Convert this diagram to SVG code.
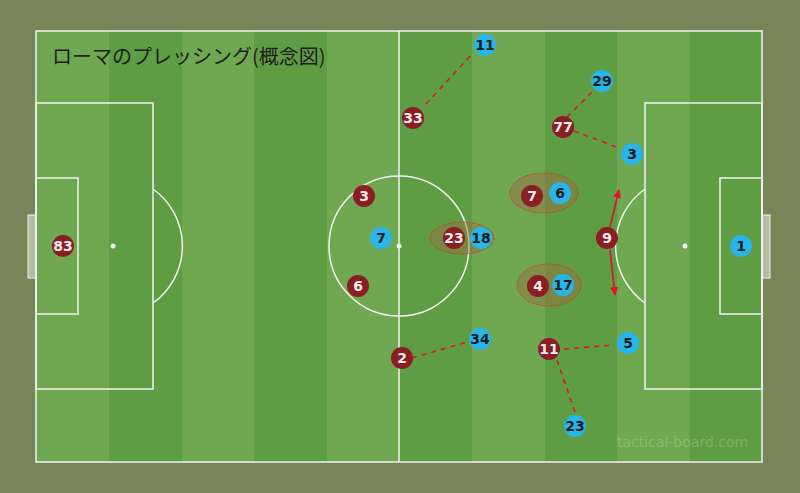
<svg xmlns="http://www.w3.org/2000/svg" width="800" height="493" viewBox="0 0 800 493">
<defs>
<style>
.ln{fill:none;stroke:#f2f2f2;stroke-width:1.5}
.red circle{fill:#8b1d24}
.red text{fill:#eeeeee}
.blue circle{fill:#27b5ea}
.blue text{fill:#1c1c1c}
text.n{font-family:"DejaVu Sans","Liberation Sans",sans-serif;font-weight:bold;font-size:14px;text-anchor:middle}
.dash{fill:none;stroke:#e0122c;stroke-width:1.6;stroke-dasharray:5 5}
.arr{fill:none;stroke:#e0122c;stroke-width:1.6}
.grp{fill:#9c6a3c;fill-opacity:0.45;stroke:#c0443a;stroke-width:1;stroke-dasharray:2 1}
</style>
<marker id="ah" markerWidth="10" markerHeight="10" refX="8" refY="5" orient="auto" markerUnits="userSpaceOnUse">
<path d="M0,1 L9,5 L0,9 z" fill="#e0122c"/>
</marker>
</defs>
<rect x="0" y="0" width="800" height="493" fill="#768659"/>
<g id="pitch">
<rect x="36" y="31" width="726" height="431" fill="#70a852"/>
<rect x="109" y="31" width="73" height="431" fill="#5f9d45"/>
<rect x="254" y="31" width="73" height="431" fill="#5f9d45"/>
<rect x="399" y="31" width="73" height="431" fill="#5f9d45"/>
<rect x="545" y="31" width="72" height="431" fill="#5f9d45"/>
<rect x="690" y="31" width="72" height="431" fill="#5f9d45"/>
<rect x="28" y="215" width="8" height="63" fill="#b3bca4" stroke="#f2f2f2" stroke-width="1"/>
<rect x="762" y="215" width="8" height="63" fill="#b3bca4" stroke="#f2f2f2" stroke-width="1"/>
<rect class="ln" x="36" y="31" width="726" height="431"/>
<line class="ln" x1="399" y1="31" x2="399" y2="462"/>
<circle class="ln" cx="399" cy="246" r="70"/>
<circle cx="399" cy="246" r="2.5" fill="#f2f2f2"/>
<rect class="ln" x="36" y="103" width="117" height="286"/>
<rect class="ln" x="36" y="178" width="42" height="136"/>
<circle cx="113" cy="246" r="2.5" fill="#f2f2f2"/>
<path class="ln" d="M153,189 A70,70 0 0 1 153,303"/>
<rect class="ln" x="645" y="103" width="117" height="286"/>
<rect class="ln" x="720" y="178" width="42" height="136"/>
<circle cx="685" cy="246" r="2.5" fill="#f2f2f2"/>
<path class="ln" d="M645,189 A70,70 0 0 0 645,303"/>
</g>
<text x="52" y="64" font-family="'Noto Sans CJK JP','Noto Sans',sans-serif" font-size="20" fill="#1e1e1e">ローマのプレッシング(概念図)</text>
<text x="617" y="447" font-family="'DejaVu Sans','Liberation Sans',sans-serif" font-size="14" fill="#ffffff" fill-opacity="0.2">tactical-board.com</text>
<g id="groups">
<ellipse class="grp" cx="462" cy="238" rx="32" ry="16"/>
<ellipse class="grp" cx="544" cy="193" rx="34" ry="20"/>
<ellipse class="grp" cx="549" cy="285" rx="32" ry="21"/>
</g>
<g id="connectors">
<line class="dash" x1="426" y1="104" x2="473" y2="53"/>
<line class="dash" x1="567" y1="117" x2="594" y2="90"/>
<line class="dash" x1="574" y1="131" x2="619" y2="148"/>
<line class="dash" x1="412" y1="358" x2="467" y2="342"/>
<line class="dash" x1="564" y1="349" x2="614" y2="345"/>
<line class="dash" x1="557" y1="360" x2="575" y2="412"/>
<line class="arr" x1="610" y1="227" x2="619" y2="190" marker-end="url(#ah)"/>
<line class="arr" x1="610" y1="250" x2="615" y2="295" marker-end="url(#ah)"/>
</g>
<g id="p-r83" class="red"><circle cx="63" cy="246" r="11"/><text class="n" x="63" y="251">83</text></g>
<g id="p-b1" class="blue"><circle cx="741" cy="246" r="11"/><text class="n" x="741" y="251">1</text></g>
<g id="p-b11" class="blue"><circle cx="485" cy="45" r="11"/><text class="n" x="485" y="50">11</text></g>
<g id="p-r33" class="red"><circle cx="413" cy="118" r="11"/><text class="n" x="413" y="123">33</text></g>
<g id="p-b29" class="blue"><circle cx="602" cy="81" r="11"/><text class="n" x="602" y="86">29</text></g>
<g id="p-r77" class="red"><circle cx="563" cy="127" r="11"/><text class="n" x="563" y="132">77</text></g>
<g id="p-b3" class="blue"><circle cx="632" cy="154" r="11"/><text class="n" x="632" y="159">3</text></g>
<g id="p-r3" class="red"><circle cx="364" cy="196" r="11"/><text class="n" x="364" y="201">3</text></g>
<g id="p-b7" class="blue"><circle cx="381" cy="238" r="11"/><text class="n" x="381" y="243">7</text></g>
<g id="p-r6" class="red"><circle cx="358" cy="286" r="11"/><text class="n" x="358" y="291">6</text></g>
<g id="p-r23" class="red"><circle cx="454" cy="238" r="11"/><text class="n" x="454" y="243">23</text></g>
<g id="p-b18" class="blue"><circle cx="481" cy="238" r="11"/><text class="n" x="481" y="243">18</text></g>
<g id="p-r7" class="red"><circle cx="532" cy="196" r="11"/><text class="n" x="532" y="201">7</text></g>
<g id="p-b6" class="blue"><circle cx="560" cy="193" r="11"/><text class="n" x="560" y="198">6</text></g>
<g id="p-r4" class="red"><circle cx="538" cy="286" r="11"/><text class="n" x="538" y="291">4</text></g>
<g id="p-b17" class="blue"><circle cx="563" cy="285" r="11"/><text class="n" x="563" y="290">17</text></g>
<g id="p-r9" class="red"><circle cx="607" cy="238" r="11"/><text class="n" x="607" y="243">9</text></g>
<g id="p-r2" class="red"><circle cx="402" cy="358" r="11"/><text class="n" x="402" y="363">2</text></g>
<g id="p-b34" class="blue"><circle cx="480" cy="339" r="11"/><text class="n" x="480" y="344">34</text></g>
<g id="p-r11" class="red"><circle cx="549" cy="349" r="11"/><text class="n" x="549" y="354">11</text></g>
<g id="p-b5" class="blue"><circle cx="628" cy="343" r="11"/><text class="n" x="628" y="348">5</text></g>
<g id="p-b23" class="blue"><circle cx="575" cy="426" r="11"/><text class="n" x="575" y="431">23</text></g>
</svg>
